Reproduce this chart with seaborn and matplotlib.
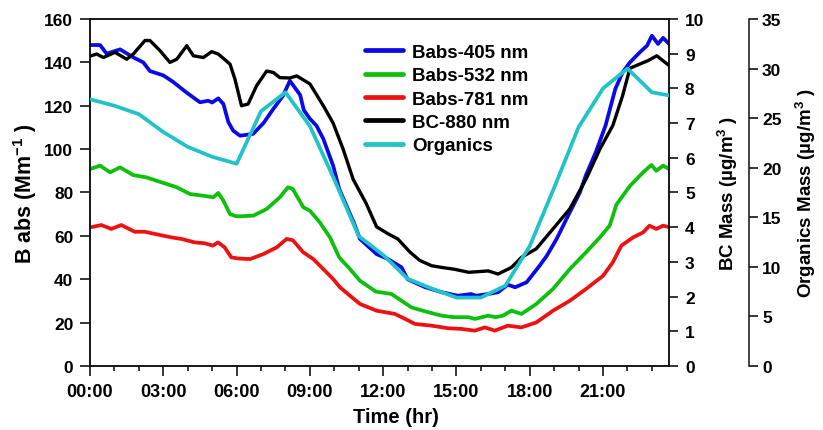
import matplotlib
matplotlib.use("Agg")
import matplotlib.pyplot as plt
import seaborn as sns
import pandas as pd
from matplotlib.ticker import MultipleLocator, FuncFormatter

# ---------------- data (time in hours of day) ----------------
t_405 = [0, 0.41, 0.68, 1.23, 1.77, 2.18, 2.45, 3.0, 3.4, 3.96, 4.5, 4.84, 5.0, 5.25, 5.46,
         5.66, 5.86, 6.14, 6.67, 7.1, 7.5, 7.9, 8.18, 8.6, 8.75, 9.0, 9.27, 9.55, 9.95, 10.2,
         10.8, 11.05, 11.73, 12.2, 12.75, 13.0, 13.7, 14.4, 15.06, 15.6, 15.8, 16.3, 16.7,
         17.1, 17.4, 17.87, 18.4, 18.7, 19.1, 19.6, 20.05, 20.3, 20.7, 21.1, 21.5, 21.8,
         22.1, 22.5, 22.8, 23.0, 23.25, 23.46, 23.7]
babs_405 = [148, 148, 144, 146, 142.3, 140, 136, 134, 131, 126, 121.6, 122.3, 121.5, 123.4, 120.8,
            112.5, 108.5, 106.2, 107, 112, 118.5, 124.6, 131.5, 125, 118, 114, 110.8, 104.7, 92.4, 81.6,
            66, 58.6, 51.6, 49.3, 45.5, 40, 36.4, 34, 32.4, 33.2, 32.4, 33.2, 34,
            37.5, 36.3, 38.6, 46.2, 50.9, 58.6, 70, 80, 88, 98.5, 110.8, 127.7, 135.4,
            140, 144.6, 147.7, 152.3, 148.5, 151.3, 148.5]

t_532 = [0, 0.41, 0.82, 1.23, 1.77, 2.3, 2.73, 3.14, 3.55, 4.09, 4.64, 5.05, 5.25, 5.46, 5.73,
         6.0, 6.68, 7.23, 7.77, 8.1, 8.3, 8.73, 9.0, 9.4, 9.82, 10.2, 10.64, 11.05, 11.7, 12.34,
         12.75, 13.16, 13.84, 14.4, 14.9, 15.5, 15.75, 16.3, 16.6, 16.9, 17.25, 17.66, 18.27,
         18.95, 19.64, 20.3, 20.87, 21.27, 21.55, 22.1, 22.64, 22.98, 23.18, 23.46, 23.7]
babs_532 = [90.8, 92.4, 89.3, 91.6, 88, 87, 85.4, 83.9, 82.4, 79.3, 78.5, 77.8, 79.8, 76.2, 70,
            69, 69.3, 72.4, 77.8, 82.4, 81.6, 73.2, 71.6, 66.3, 59.3, 50.1, 44.7, 39.3, 34.3, 33.2,
            30.1, 27, 24.8, 23.2, 22.5, 22.5, 21.7, 23.2, 22.5, 23.2, 25.5, 24, 28.6,
            35.5, 44.7, 52.4, 59.3, 64.7, 74.5, 83, 89.3, 92.7, 90, 92.4, 90.8]

t_781 = [0, 0.46, 0.87, 1.28, 1.83, 2.24, 2.65, 3.33, 3.74, 4.28, 4.69, 5.03, 5.24, 5.51, 5.78,
         6.05, 6.55, 7.09, 7.64, 8.05, 8.3, 8.73, 9.14, 9.68, 9.95, 10.23, 10.64, 11.05, 11.73,
         12.48, 12.9, 13.3, 13.98, 14.66, 15.2, 15.75, 16.16, 16.57, 17.1, 17.66, 18.27, 18.95,
         19.64, 20.3, 21.0, 21.4, 21.75, 22.23, 22.64, 22.9, 23.18, 23.46, 23.7]
babs_781 = [63.9, 65, 63.2, 65, 61.9, 61.9, 60.9, 59.3, 58.6, 57, 56.6, 55.5, 57, 54.7, 50.1,
            49.6, 49.3, 51.6, 54.7, 58.6, 58, 52.4, 49.3, 43.2, 40.1, 36.3, 32.4, 28.6, 25.5,
            24, 21.7, 19.4, 18.6, 17.4, 17.1, 16.3, 17.8, 16.3, 18.6, 17.8, 20.1, 25.5,
            30.1, 35.5, 41.6, 47.8, 55.5, 59.3, 61.6, 64.7, 63.2, 64.7, 64]

t_bc = [0, 0.27, 0.55, 1.02, 1.5, 1.77, 2.25, 2.45, 2.86, 3.27, 3.55, 3.96, 4.23, 4.64, 4.98,
        5.25, 5.73, 5.93, 6.2, 6.47, 6.82, 7.23, 7.5, 7.77, 8.18, 8.46, 9.0, 9.55, 9.95, 10.36,
        10.77, 11.3, 11.73, 12.2, 12.6, 13.1, 13.5, 13.98, 14.4, 14.9, 15.5, 16.3, 16.7, 17.25,
        17.66, 18.27, 18.95, 19.64, 20.3, 20.87, 21.4, 21.8, 22.1, 22.5, 22.84, 23.2, 23.7]
bc_880 = [8.93, 8.99, 8.89, 9.04, 8.84, 8.99, 9.38, 9.38, 9.09, 8.75, 8.84, 9.23, 8.94, 8.89, 9.06,
          8.99, 8.70, 8.27, 7.50, 7.55, 8.08, 8.50, 8.46, 8.31, 8.30, 8.36, 8.13, 7.50, 7.00, 6.25,
          5.38, 4.69, 4.01, 3.81, 3.66, 3.28, 3.04, 2.89, 2.84, 2.79, 2.70, 2.74, 2.65, 2.84,
          3.13, 3.38, 3.95, 4.53, 5.38, 6.25, 6.93, 7.79, 8.58, 8.70, 8.80, 8.94, 8.66]

t_org = [0, 1, 2, 3, 4, 5, 6, 7, 8, 9, 10, 11, 12, 13, 14, 15, 16, 17, 18, 19, 20, 21, 22, 23, 23.7]
organics = [26.9, 26.25, 25.4, 23.6, 22.1, 21.1, 20.4, 25.7, 27.6, 24.2, 18.8, 13.1, 11.2, 8.8,
            7.8, 6.9, 6.9, 8.1, 12.1, 18.0, 24.1, 28.0, 30.0, 27.6, 27.3]

series_labels = ["Babs-405 nm", "Babs-532 nm", "Babs-781 nm", "BC-880 nm", "Organics"]
x_tick_hours = [0, 3, 6, 9, 12, 15, 18, 21]

# ---------------- style ----------------
sns.set_theme(style="ticks")
plt.rcParams.update({
    "font.family": ["Liberation Sans", "DejaVu Sans"],
    "font.weight": "bold",
    "axes.labelweight": "bold",
    "mathtext.fontset": "custom",
    "mathtext.rm": "Liberation Sans:bold",
    "mathtext.it": "Liberation Sans:bold",
    "mathtext.bf": "Liberation Sans:bold",
    "mathtext.default": "rm",
    "axes.linewidth": 1.1,
    "axes.edgecolor": "#111111",
    "text.color": "black",
    "axes.labelcolor": "black",
    "xtick.color": "black",
    "ytick.color": "black",
    "xtick.labelcolor": "black",
    "ytick.labelcolor": "black",
})

fig = plt.figure(figsize=(8.23, 4.31), dpi=100)
ax = fig.add_axes([0.1094, 0.1485, 0.7035, 0.8051])
ax2 = ax.twinx()
ax3 = ax.twinx()
ax3.spines["right"].set_position(("axes", 1.138))
for s in ["left", "top", "bottom"]:
    ax3.spines[s].set_visible(False)

c_blue, c_green, c_red, c_black, c_cyan = "#0a0ae6", "#0cc00c", "#ee1111", "#000000", "#22c3c8"
lw = 2.7

sns.lineplot(x=t_405, y=babs_405, ax=ax, color=c_blue, lw=lw, label=series_labels[0], legend=False)
sns.lineplot(x=t_532, y=babs_532, ax=ax, color=c_green, lw=lw, label=series_labels[1], legend=False)
sns.lineplot(x=t_781, y=babs_781, ax=ax, color=c_red, lw=lw, label=series_labels[2], legend=False)
sns.lineplot(x=t_bc, y=bc_880, ax=ax2, color=c_black, lw=2.4, label=series_labels[3], legend=False)
sns.lineplot(x=t_org, y=organics, ax=ax3, color=c_cyan, lw=lw, label=series_labels[4], legend=False)

ax.set_xlim(0, 23.7)
ax.set_ylim(0, 160)
ax2.set_ylim(0, 10)
ax3.set_ylim(0, 35)

ax.set_xticks(x_tick_hours)
ax.xaxis.set_major_formatter(FuncFormatter(lambda v, p: f"{int(round(v)):02d}:00"))
ax.xaxis.set_minor_locator(MultipleLocator(1))
ax.yaxis.set_major_locator(MultipleLocator(20))
ax2.yaxis.set_major_locator(MultipleLocator(1))
ax3.yaxis.set_major_locator(MultipleLocator(5))

ax.tick_params(axis="x", which="major", direction="out", length=7, width=1.1, labelsize=13, pad=5, top=False)
ax.tick_params(axis="x", which="minor", direction="out", length=3.8, width=1.1, top=False)
ax.tick_params(axis="y", which="major", direction="out", length=7, width=1.1, labelsize=12.5, pad=5)
ax2.tick_params(axis="y", direction="out", length=6.5, width=1.1, labelsize=12.5, pad=5)
ax3.tick_params(axis="y", direction="out", length=6.5, width=1.1, labelsize=12.5, pad=3)

ax.set_xlabel("Time (hr)", fontsize=14.5, fontweight="bold")
ax.xaxis.set_label_coords(0.529, -0.118)
ax.set_ylabel(r"B abs (Mm$^{-1}$ )", fontsize=15.5, fontweight="bold", labelpad=4)
ax2.set_ylabel(r"BC Mass (µg/m$^{3}$ )", fontsize=13.5, fontweight="bold", labelpad=8)
ax3.set_ylabel(r"Organics Mass (µg/m$^{3}$ )", fontsize=13.5, fontweight="bold", labelpad=9)

handles = ax.get_lines() + ax2.get_lines() + ax3.get_lines()
leg = ax3.legend(handles, series_labels, loc="upper left", bbox_to_anchor=(0.462, 0.95),
                 frameon=False, fontsize=13.5, handlelength=2.0, handletextpad=0.5,
                 labelspacing=0.33, borderaxespad=0)
for h in leg.get_lines():
    h.set_linewidth(3.4)

fig.savefig("out.png", dpi=100)
